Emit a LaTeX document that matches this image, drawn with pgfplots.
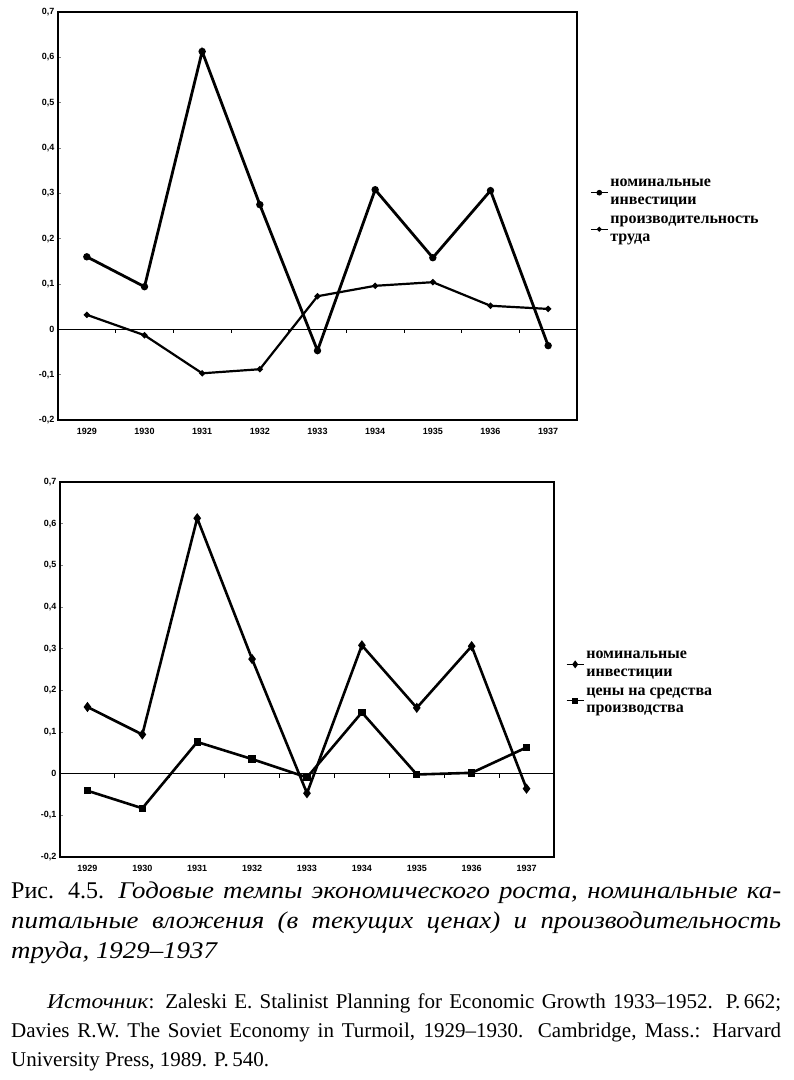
\documentclass[border=0pt]{standalone}
\usepackage{fontspec}
\setmainfont{Liberation Serif}[ItalicFeatures={FakeStretch=1.12}]
\newfontfamily\ticksans{Liberation Sans}
\usepackage{pgfplots}
\usepackage{pgfplotstable}
\pgfplotsset{compat=1.18}

% annual growth rates
\pgfplotstableread{
x  invest  labour  prices
1   0.160   0.032  -0.041
2   0.094  -0.013  -0.083
3   0.613  -0.097   0.076
4   0.275  -0.088   0.035
5  -0.047   0.073  -0.009
6   0.308   0.096   0.147
7   0.158   0.104  -0.002
8   0.306   0.052   0.002
9  -0.036   0.045   0.063
}\growth

\pgfplotsset{
  growth/.style={
    scale only axis,
    anchor=south west,
    xmin=0.5, xmax=9.5, ymin=-0.2, ymax=0.7,
    xtick={1,...,9},
    xticklabels={1929,1930,1931,1932,1933,1934,1935,1936,1937},
    ytick={-0.2,-0.1,0,0.1,0.2,0.3,0.4,0.5,0.6,0.7},
    ytick pos=left,
    /pgf/number format/assume math mode=true,
    yticklabel style={/pgf/number format/.cd, fixed, precision=1, use comma},
    tick label style={font=\ticksans\bfseries\fontsize{9}{9}\selectfont},
    xticklabel style={yshift=-5pt},
    xtick style={draw=none},
    ytick style={line width=0.7pt},
    major tick length=3pt,
    axis line style={line width=1.3pt},
    clip=false,
    legend cell align=left,
    legend image post style={line width=1.2pt},
    legend style={draw=none, fill=none, inner sep=0pt,
      font=\bfseries\fontsize{16}{17.5}\selectfont,
      cells={align=left}, row sep=6pt},
  },
}
\tikzset{zeroline/.style={line width=1.1pt}}

\begin{document}
\begin{tikzpicture}[x=1pt,y=1pt]
\useasboundingbox (0,0) rectangle (794,1080);

% upper chart
\begin{axis}[growth, at={(58pt,660pt)}, width=519pt, height=408pt,
    legend style={at={(1.025,0.595)}, anchor=north west}]
  \draw[zeroline] (axis cs:0.5,0) -- (axis cs:9.5,0);
  \pgfplotsinvokeforeach{1.5,2.5,3.5,4.5,5.5,6.5,7.5,8.5}{
    \draw[line width=0.8pt] (axis cs:#1,0) -- ([yshift=-4pt]axis cs:#1,0);
  }
  \addplot[black, line width=2.8pt, mark=*, mark size=2.2pt] table[x=x, y=invest] {\growth};
  \addlegendentry{номинальные\\инвестиции}
  \addplot[black, line width=2.2pt, mark=*, mark size=1.8pt] table[x=x, y=labour] {\growth};
  \addlegendentry{производительность\\труда}
\end{axis}

% lower chart
\begin{axis}[growth, at={(60pt,223pt)}, width=494pt, height=375pt,
    legend style={at={(1.024,0.555)}, anchor=north west}]
  \draw[zeroline] (axis cs:0.5,0) -- (axis cs:9.5,0);
  \pgfplotsinvokeforeach{1.5,2.5,3.5,4.5,5.5,6.5,7.5,8.5}{
    \draw[line width=0.8pt] (axis cs:#1,0) -- ([yshift=-4pt]axis cs:#1,0);
  }
  \addplot[black, line width=2.6pt, mark=diamond*, mark size=3pt] table[x=x, y=invest] {\growth};
  \addlegendentry{номинальные\\инвестиции}
  \addplot[black, line width=2.6pt, mark=square*, mark size=2.4pt] table[x=x, y=prices] {\growth};
  \addlegendentry{цены на средства\\производства}
\end{axis}

% caption
\begin{scope}[every node/.style={anchor=base west, inner sep=0pt}]
  \node[font=\fontsize{24}{24}\selectfont] at (11,181)
    {\makebox[770pt][s]{Рис. 4.5. \textit{Годовые темпы экономического роста, номинальные ка-}}};
  \node[font=\fontsize{24}{24}\selectfont] at (11,151)
    {\makebox[770pt][s]{\textit{питальные вложения (в текущих ценах) и производительность}}};
  \node[font=\fontsize{24}{24}\selectfont] at (11,121)
    {\textit{труда, 1929–1937}};
  \node[font=\fontsize{21}{21}\selectfont] at (47,71)
    {\makebox[734pt][s]{\textit{Источник}: Zaleski E. Stalinist Planning for Economic Growth 1933–1952. P.\,662;}};
  \node[font=\fontsize{21}{21}\selectfont] at (11,42)
    {\makebox[770pt][s]{Davies R.W. The Soviet Economy in Turmoil, 1929–1930. Cambridge, Mass.: Harvard}};
  \node[font=\fontsize{21}{21}\selectfont] at (11,13)
    {University Press, 1989. P.\,540.};
\end{scope}
\end{tikzpicture}
\end{document}
